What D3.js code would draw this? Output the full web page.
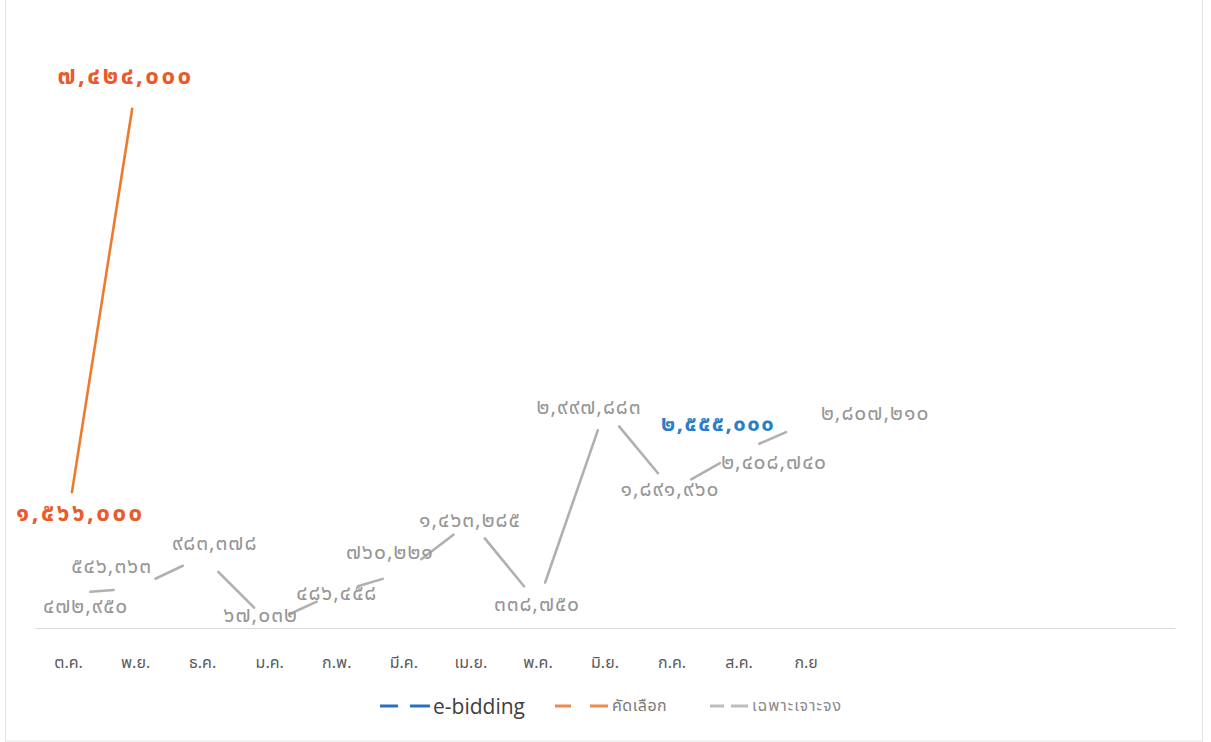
<!DOCTYPE html>
<html><head><meta charset="utf-8">
<script src="https://cdn.jsdelivr.net/npm/d3@7"></script>
<style>
html,body{margin:0;padding:0;background:#fff;}
svg{display:block;}
</style>
</head><body>
<svg id="chart" width="1211" height="742"></svg>
<script>
// ---- data ----
const categories = ['ต.ค.','พ.ย.','ธ.ค.','ม.ค.','ก.พ.','มี.ค.','เม.ย.','พ.ค.','มิ.ย.','ก.ค.','ส.ค.','ก.ย'];
const seriesNames = ['e-bidding','คัดเลือก','เฉพาะเจาะจง'];
const eBidding  = [null,null,null,null,null,null,null,null,null,null,2555000,null];
const selection = [1566000,7424000,null,null,null,null,null,null,null,null,null,null];
const specific  = [472950,546363,983378,67032,486458,760221,1463285,338750,2997883,1891960,2408740,2807210];
const yMax = 8000000;

// label nudges (px, relative to each point)
const eBiddingNudge  = [null,null,null,null,null,null,null,null,null,null,[-21,-17],null];
const selectionNudge = [[12,0],[-10,-10]];
const specificNudge  = [[17,13],[-24,-22],[12,-13],[-9,-8],[0,1],[-14,-20],[-1,-1],[-1,1],[-16,-2],[-2,-1],[35,10],[69,-10]];

const W = 1211, H = 742;
const THAI = '"Noto Sans Thai","Tahoma","DejaVu Sans",sans-serif';
const svg = d3.select('#chart');
svg.append('rect').attr('width',W).attr('height',H).attr('fill','#fff');
// chart border
svg.append('rect').attr('x',5.5).attr('y',-2).attr('width',1197).attr('height',743)
  .attr('fill','none').attr('stroke','#e3e3e3').attr('stroke-width',1);

const nSlots = 17;
const x = d3.scaleBand().domain(d3.range(nSlots)).range([35,1175]).paddingInner(0).paddingOuter(0);
const cx = i => x(i) + x.bandwidth()/2;
const y = d3.scaleLinear().domain([0,yMax]).range([628,45]);

// x axis
const xAxis = d3.axisBottom(x).tickValues(d3.range(categories.length))
  .tickFormat(i => categories[i]).tickSize(0).tickPadding(29);
const gx = svg.append('g').attr('transform','translate(0,628)').call(xAxis);
gx.select('.domain').attr('stroke','#d9d9d9').attr('stroke-width',1.2);
gx.selectAll('text').attr('font-family',THAI)
  .attr('font-size',16).attr('fill','#5a5a5a');

const thaiDigits = ['๐','๑','๒','๓','๔','๕','๖','๗','๘','๙'];
const fmt = v => d3.format(',')(v).replace(/[0-9]/g, d => thaiDigits[+d]);

const GAP = 22;
function drawSeries(values, nudges, color, labelColor, bold, fontSize, spacing){
  const pts = values.map((v,i)=> v==null?null:{i, v, px:cx(i), py:y(v)});
  const g = svg.append('g');
  for(let k=0;k<pts.length-1;k++){
    const a=pts[k], b=pts[k+1];
    if(!a||!b) continue;
    const dx=b.px-a.px, dy=b.py-a.py, L=Math.hypot(dx,dy);
    if(L<=2*GAP) continue;
    const ux=dx/L, uy=dy/L;
    g.append('line')
      .attr('x1',a.px+ux*GAP).attr('y1',a.py+uy*GAP)
      .attr('x2',b.px-ux*GAP).attr('y2',b.py-uy*GAP)
      .attr('stroke',color).attr('stroke-width',2.6).attr('stroke-linecap','round');
  }
  pts.forEach((p,k)=>{
    if(!p) return;
    const n = nudges[k] || [0,-12];
    g.append('text').attr('x',p.px+n[0]).attr('y',p.py+n[1])
      .attr('text-anchor','middle').attr('dominant-baseline','central')
      .attr('font-family',THAI)
      .attr('font-size',fontSize).attr('font-weight',bold?'bold':'normal')
      .attr('letter-spacing',spacing)
      .attr('fill',labelColor).text(fmt(p.v));
  });
}

drawSeries(specific, specificNudge, '#b0b0b0', '#969696', false, 21, 1);
drawSeries(selection, selectionNudge, '#ee7a2e', '#ea5a2a', true, 24, 2.5);
drawSeries(eBidding, eBiddingNudge, '#2a7dc9', '#2a7dc9', true, 22, 1.5);

// legend
const legend = [
  {name:seriesNames[0], color:'#2472c0', d1:[380,398], d2:[410,430], tx:433, size:21, ls:0, fill:'#404040', font:'"Open Sans","Liberation Sans",sans-serif'},
  {name:seriesNames[1], color:'#ee8a4a', d1:[555,571], d2:[590,608], tx:612, size:16, ls:0.5, fill:'#7a7a7a', font:THAI},
  {name:seriesNames[2], color:'#bdbdbd', d1:[710,724], d2:[731,748], tx:752, size:16, ls:1, fill:'#8a8a8a', font:THAI}
];
const ly = 706;
const lg = svg.append('g');
legend.forEach(l=>{
  [l.d1,l.d2].forEach(d=> lg.append('line').attr('x1',d[0]).attr('x2',d[1]).attr('y1',ly).attr('y2',ly)
    .attr('stroke',l.color).attr('stroke-width',3));
  lg.append('text').attr('x',l.tx).attr('y',ly).attr('dominant-baseline','central')
    .attr('font-family',l.font).attr('font-size',l.size).attr('letter-spacing',l.ls)
    .attr('fill',l.fill).text(l.name);
});
</script>
</body></html>
